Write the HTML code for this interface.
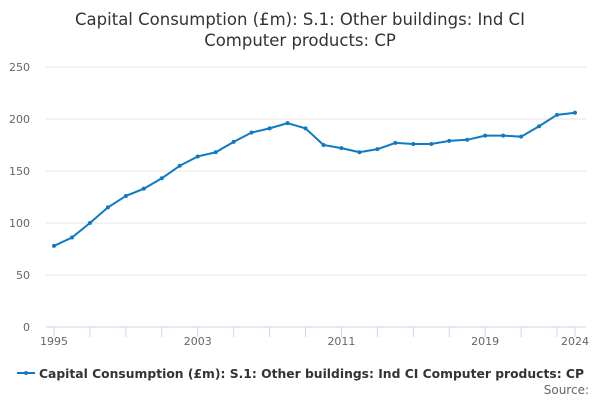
<!DOCTYPE html>
<html><head><meta charset="utf-8"><style>
body{margin:0;width:600px;height:400px;background:#fff;font-family:"DejaVu Sans","Liberation Sans",sans-serif;overflow:hidden}
</style></head><body>
<svg width="600" height="400" id="c">
<text x="300" y="25" text-anchor="middle" font-size="16.5" fill="#333">Capital Consumption (£m): S.1: Other buildings: Ind CI</text>
<text x="300" y="46" text-anchor="middle" font-size="16.5" fill="#333">Computer products: CP</text>
<g id="grid"></g><g id="xa"></g><g id="plot"></g>
<g>
<line x1="17" y1="373" x2="35" y2="373" stroke="#0e7ac4" stroke-width="2"/>
<circle cx="26" cy="373" r="2" fill="#0e7ac4"/>
<text x="39" y="378" font-size="12.5" font-weight="bold" fill="#333" textLength="545" lengthAdjust="spacingAndGlyphs">Capital Consumption (£m): S.1: Other buildings: Ind CI Computer products: CP</text>
</g>
<text x="589" y="394" text-anchor="end" font-size="12" fill="#666">Source:</text>
</svg>
<script>
const years=[1995,1996,1997,1998,1999,2000,2001,2002,2003,2004,2005,2006,2007,2008,2009,2010,2011,2012,2013,2014,2015,2016,2017,2018,2019,2020,2021,2022,2023,2024];
const values=[78,86,100,115,126,133,143,155,164,168,178,187,191,196,191,175,172,168,171,177,176,176,179,180,184,184,183,193,204,206];
const yTicks=[0,50,100,150,200,250];
const xLabels=[1995,2003,2011,2019,2024];
const NS="http://www.w3.org/2000/svg";
const x=yr=>54+(yr-1995)*(575-54)/29;
const y=v=>327-v*260/250;
function mk(t,a,p){const e=document.createElementNS(NS,t);for(const k in a)e.setAttribute(k,a[k]);p.appendChild(e);return e;}
const g=document.getElementById('grid'),xa=document.getElementById('xa'),pl=document.getElementById('plot');
yTicks.forEach(v=>{
 const l=mk('line',{x1:46,x2:586,y1:y(v),y2:y(v),stroke:v?'#e6e6e6':'#ccd6eb'},g);
 
 
 const t=mk('text',{x:30,y:y(v)+4,'text-anchor':'end','font-size':11,fill:'#666'},g);t.textContent=v;
 
 
});
const tickYears=[];for(let yr=1995;yr<2024;yr+=2)tickYears.push(yr);tickYears.push(2024);
tickYears.forEach(yr=>{const l=mk('line',{x1:x(yr),x2:x(yr),y1:327,y2:337,stroke:'#ccd6eb'},xa);
 
 });
xLabels.forEach(yr=>{const t=mk('text',{x:x(yr),y:345,'text-anchor':'middle','font-size':11,fill:'#666'},xa);t.textContent=yr;
 
 });
const path=mk('polyline',{points:years.map((yr,i)=>x(yr)+','+y(values[i])).join(' '),fill:'none',stroke:'#0e7ac4','stroke-width':2},pl);


years.forEach((yr,i)=>{const c=mk('circle',{cx:x(yr),cy:y(values[i]),r:2,fill:'#0e7ac4'},pl);
 
 });
</script>
</body></html>
